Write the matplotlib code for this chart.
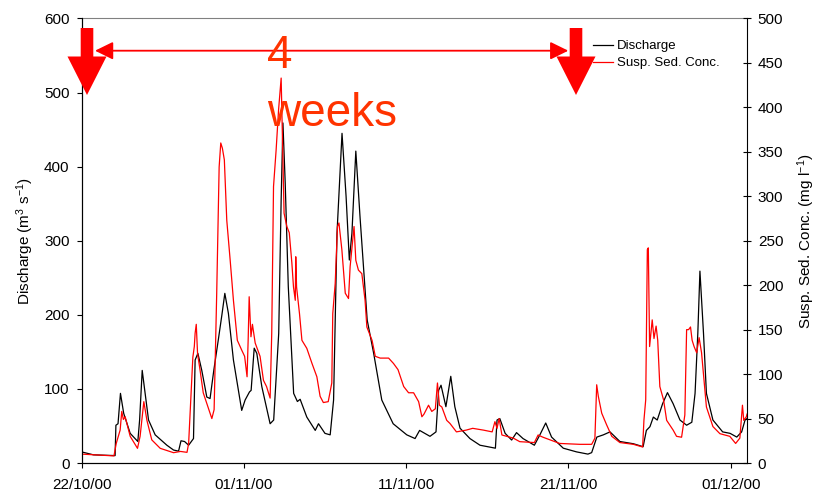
import matplotlib
matplotlib.use("Agg")
import matplotlib.pyplot as plt
from matplotlib.patches import Polygon, FancyArrowPatch

plt.rcParams['font.family'] = ['Liberation Sans', 'DejaVu Sans']
plt.rcParams['mathtext.fontset'] = 'custom'
plt.rcParams['mathtext.rm'] = 'Liberation Sans'
plt.rcParams['mathtext.it'] = 'Liberation Sans'

# ---- data (days since 22/10/00 00:00) ----
q_days = [0.0, 0.74, 2.07, 2.12, 2.25, 2.4, 2.6, 3.0, 3.47, 3.58, 3.74, 3.92, 4.13, 4.54, 5.26, 5.67,
          5.98, 6.13, 6.35, 6.6, 6.9, 7.0, 7.17, 7.41, 7.72, 7.92, 8.15, 8.44, 8.65, 8.83, 9.05, 9.36,
          9.87, 10.08, 10.35, 10.45, 10.64, 10.8, 11.11, 11.62, 11.84, 12.15, 12.3, 12.41, 12.55, 12.74,
          13.07, 13.3, 13.47, 13.88, 14.4, 14.6, 15.0, 15.32, 15.53, 15.74, 16.05, 16.3, 16.5, 16.66,
          16.9, 17.16, 17.6, 18.0, 18.5, 19.2, 20.04, 20.55, 20.83, 21.47, 21.84, 22.0, 22.15, 22.45,
          22.75, 23.0, 23.32, 23.93, 24.55, 25.5, 25.6, 25.77, 26.1, 26.5, 26.8, 27.2, 27.9, 28.24,
          28.6, 28.96, 29.68, 30.5, 31.2, 31.43, 31.75, 32.15, 32.56, 33.17, 34.0, 34.6, 34.8, 35.02,
          35.23, 35.47, 35.8, 36.1, 36.45, 36.87, 37.28, 37.6, 37.8, 37.97, 38.1, 38.32, 38.5, 38.9,
          39.5, 39.96, 40.37, 40.67, 40.88, 41.0]
q_vals = [15, 11, 10, 51, 53, 94, 67, 40, 29, 58, 125, 94, 58, 38, 24, 17.5,
          16, 30, 29, 24, 33, 139, 148, 125, 89, 87, 125, 168, 200, 229, 202, 139,
          71, 85, 96, 98, 155, 148, 103, 53, 58, 175, 355, 459, 378, 238,
          94, 83, 86, 62, 44, 53, 40, 38, 85, 310, 445, 360, 274, 310,
          421, 332, 193, 148, 85, 53, 38, 33, 44, 36, 42, 98, 105, 76,
          117, 76, 47, 33, 24, 20, 58, 60, 40, 31, 41, 33, 24, 38,
          54, 35, 20, 15, 12, 14, 35, 38, 42, 29, 26, 22, 44, 49,
          62, 58, 80, 95, 80, 58, 51, 55, 94, 175, 259, 175, 94, 58,
          42, 40, 35, 42, 58, 60]

s_days = [0.0, 2.0, 2.14, 2.38, 2.48, 2.58, 2.69, 3.0, 3.45, 3.61, 3.84, 4.03, 4.33, 4.85, 5.67, 6.1,
          6.5, 6.6, 6.86, 6.95, 7.0, 7.07, 7.15, 7.3, 7.5, 7.72, 8.03, 8.17, 8.33, 8.48, 8.58, 8.68,
          8.8, 8.95, 9.16, 9.36, 9.6, 9.87, 10.05, 10.2, 10.27, 10.33, 10.44, 10.53, 10.7, 11.0, 11.21,
          11.4, 11.62, 11.72, 11.83, 11.99, 12.14, 12.3, 12.48, 12.65, 12.8, 12.96, 13.06, 13.17, 13.2,
          13.25, 13.43, 13.58, 13.88, 14.2, 14.5, 14.7, 14.9, 15.2, 15.42, 15.48, 15.63, 15.77, 15.86,
          16.04, 16.25, 16.45, 16.55, 16.68, 16.79, 16.9, 17.06, 17.27, 17.47, 17.58, 17.9, 18.1,
          18.4, 18.92, 19.22, 19.5, 19.85, 20.15, 20.46, 20.77, 20.97, 21.1, 21.38, 21.58, 21.8, 21.93,
          22.05, 22.2, 22.5, 22.7, 23.1, 23.7, 24.1, 24.76, 25.3, 25.47, 25.6, 25.73, 25.9, 26.6,
          27.0, 27.9, 28.13, 28.43, 29.46, 30.7, 31.43, 31.63, 31.74, 31.84, 32.05, 32.35, 32.67,
          33.17, 34.0, 34.57, 34.65, 34.76, 34.86, 34.92, 35.0, 35.16, 35.27, 35.4, 35.5, 35.63, 35.86,
          36.05, 36.45, 36.66, 36.97, 37.17, 37.28, 37.4, 37.52, 37.62, 37.74, 37.9, 38.05, 38.2,
          38.5, 38.9, 39.33, 39.94, 40.3, 40.56, 40.72, 40.8, 40.96, 41.0]
s_vals = [10, 8, 22, 37, 58, 49, 52, 30, 16.5, 30, 69, 48, 26, 16.5, 11.6, 13,
          12, 22, 119, 131, 146, 156, 123, 105, 79, 67, 50, 60, 191, 333, 360, 354,
          341, 273, 228, 183, 138, 127, 120, 97, 140, 187, 142, 156, 135, 120, 93,
          86, 73, 146, 311, 352, 397, 433, 281, 266, 259, 225, 198, 183, 232,
          198, 168, 138, 129, 112, 97, 75, 68, 69, 90, 168, 202, 266, 270,
          240, 191, 185, 221, 245, 266, 228, 217, 213, 183, 153, 138, 120,
          118, 118, 112, 105, 86, 79, 79, 69, 52, 55, 65, 58, 61, 90,
          65, 63, 48, 44.5, 35, 37, 39, 37, 35, 46.5, 39, 50, 31.5, 28,
          24, 23, 31.5, 29, 22, 21, 21, 28, 88, 75, 56, 43, 30,
          23, 21, 18, 48, 71, 240, 242, 131, 161, 140, 154, 138, 86, 71,
          48, 37, 30, 29, 54, 150, 150, 153, 138, 131, 124, 141, 124,
          63, 41, 33, 30, 22, 28, 65, 48, 52, 55]

tick_days = [0, 10, 20, 30, 40]
tick_labels = ['22/10/00', '01/11/00', '11/11/00', '21/11/00', '01/12/00']

W, H = 822, 494
fig = plt.figure(figsize=(W / 100, H / 100), dpi=100)
L, R, T, B = 81.5, 747, 18.5, 463
ax = fig.add_axes([L / W, 1 - B / H, (R - L) / W, (B - T) / H])
ax2 = ax.twinx()

ax.plot(q_days, q_vals, color='black', lw=0.9, label='Discharge', zorder=3)
ax2.plot(s_days, s_vals, color='#ff0000', lw=0.9, label='Susp. Sed. Conc.', zorder=2)

ax.set_xlim(0, 41)
ax.set_ylim(0, 600)
ax2.set_ylim(0, 500)
ax.set_xticks(tick_days)
ax.set_xticklabels(tick_labels)
ax.set_yticks(range(0, 601, 100))
ax2.set_yticks(range(0, 501, 50))

for a in (ax, ax2):
    a.set_facecolor('none')
    a.spines['top'].set_color('#808080')
ax2.spines['top'].set_visible(False)
ax.spines['right'].set_visible(False)

ax.tick_params(axis='x', direction='out', length=3.6, width=0.8, pad=7, labelsize=11)
ax.tick_params(axis='y', direction='out', length=3.6, width=0.8, pad=5, labelsize=11)
ax2.tick_params(axis='y', direction='inout', length=5.5, width=0.8, pad=5, labelsize=11)

ax.set_ylabel('Discharge (m$^{3}$ s$^{-1}$)', fontsize=11)
ax2.set_ylabel('Susp. Sed. Conc. (mg l$^{-1}$)', fontsize=11, rotation=90)
ax.yaxis.set_label_coords(-0.068, 0.5)
ax2.yaxis.set_label_coords(1.072, 0.5)

# legend
h1, l1 = ax.get_legend_handles_labels()
h2, l2 = ax2.get_legend_handles_labels()
fig.legend(h1 + h2, l1 + l2, loc='upper left', bbox_to_anchor=(593 / W, 1 - 40 / H),
           frameon=False, fontsize=9.5, handlelength=1.5, handletextpad=0.3,
           labelspacing=0.38, borderpad=0, borderaxespad=0)


def fc(x, y):
    return (x / W, 1 - y / H)


def block_arrow(cx):
    pts = [(cx - 6.3, 28), (cx + 6.3, 28), (cx + 6.3, 56.5), (cx + 19.5, 56.5), (cx, 95),
           (cx - 19.5, 56.5), (cx - 6.3, 56.5)]
    fig.add_artist(Polygon([fc(*p) for p in pts], closed=True, facecolor='#ff0000',
                           edgecolor='none', transform=fig.transFigure, zorder=10))


block_arrow(87)
block_arrow(576)

arr = FancyArrowPatch(fc(95, 50.7), fc(568.3, 50.7), transform=fig.transFigure,
                      arrowstyle='<|-|>,head_length=11,head_width=5.4', mutation_scale=1,
                      shrinkA=0, shrinkB=0, color='#ff0000', lw=1.3, zorder=10)
fig.add_artist(arr)

fig.text(*fc(267, 68.3), '4', fontsize=33, color='#ff3300', ha='left', va='baseline', zorder=11)
fig.text(*fc(267, 126), 'weeks', fontsize=33, color='#ff3300', ha='left', va='baseline', zorder=11)

fig.savefig('out.png', dpi=100)
